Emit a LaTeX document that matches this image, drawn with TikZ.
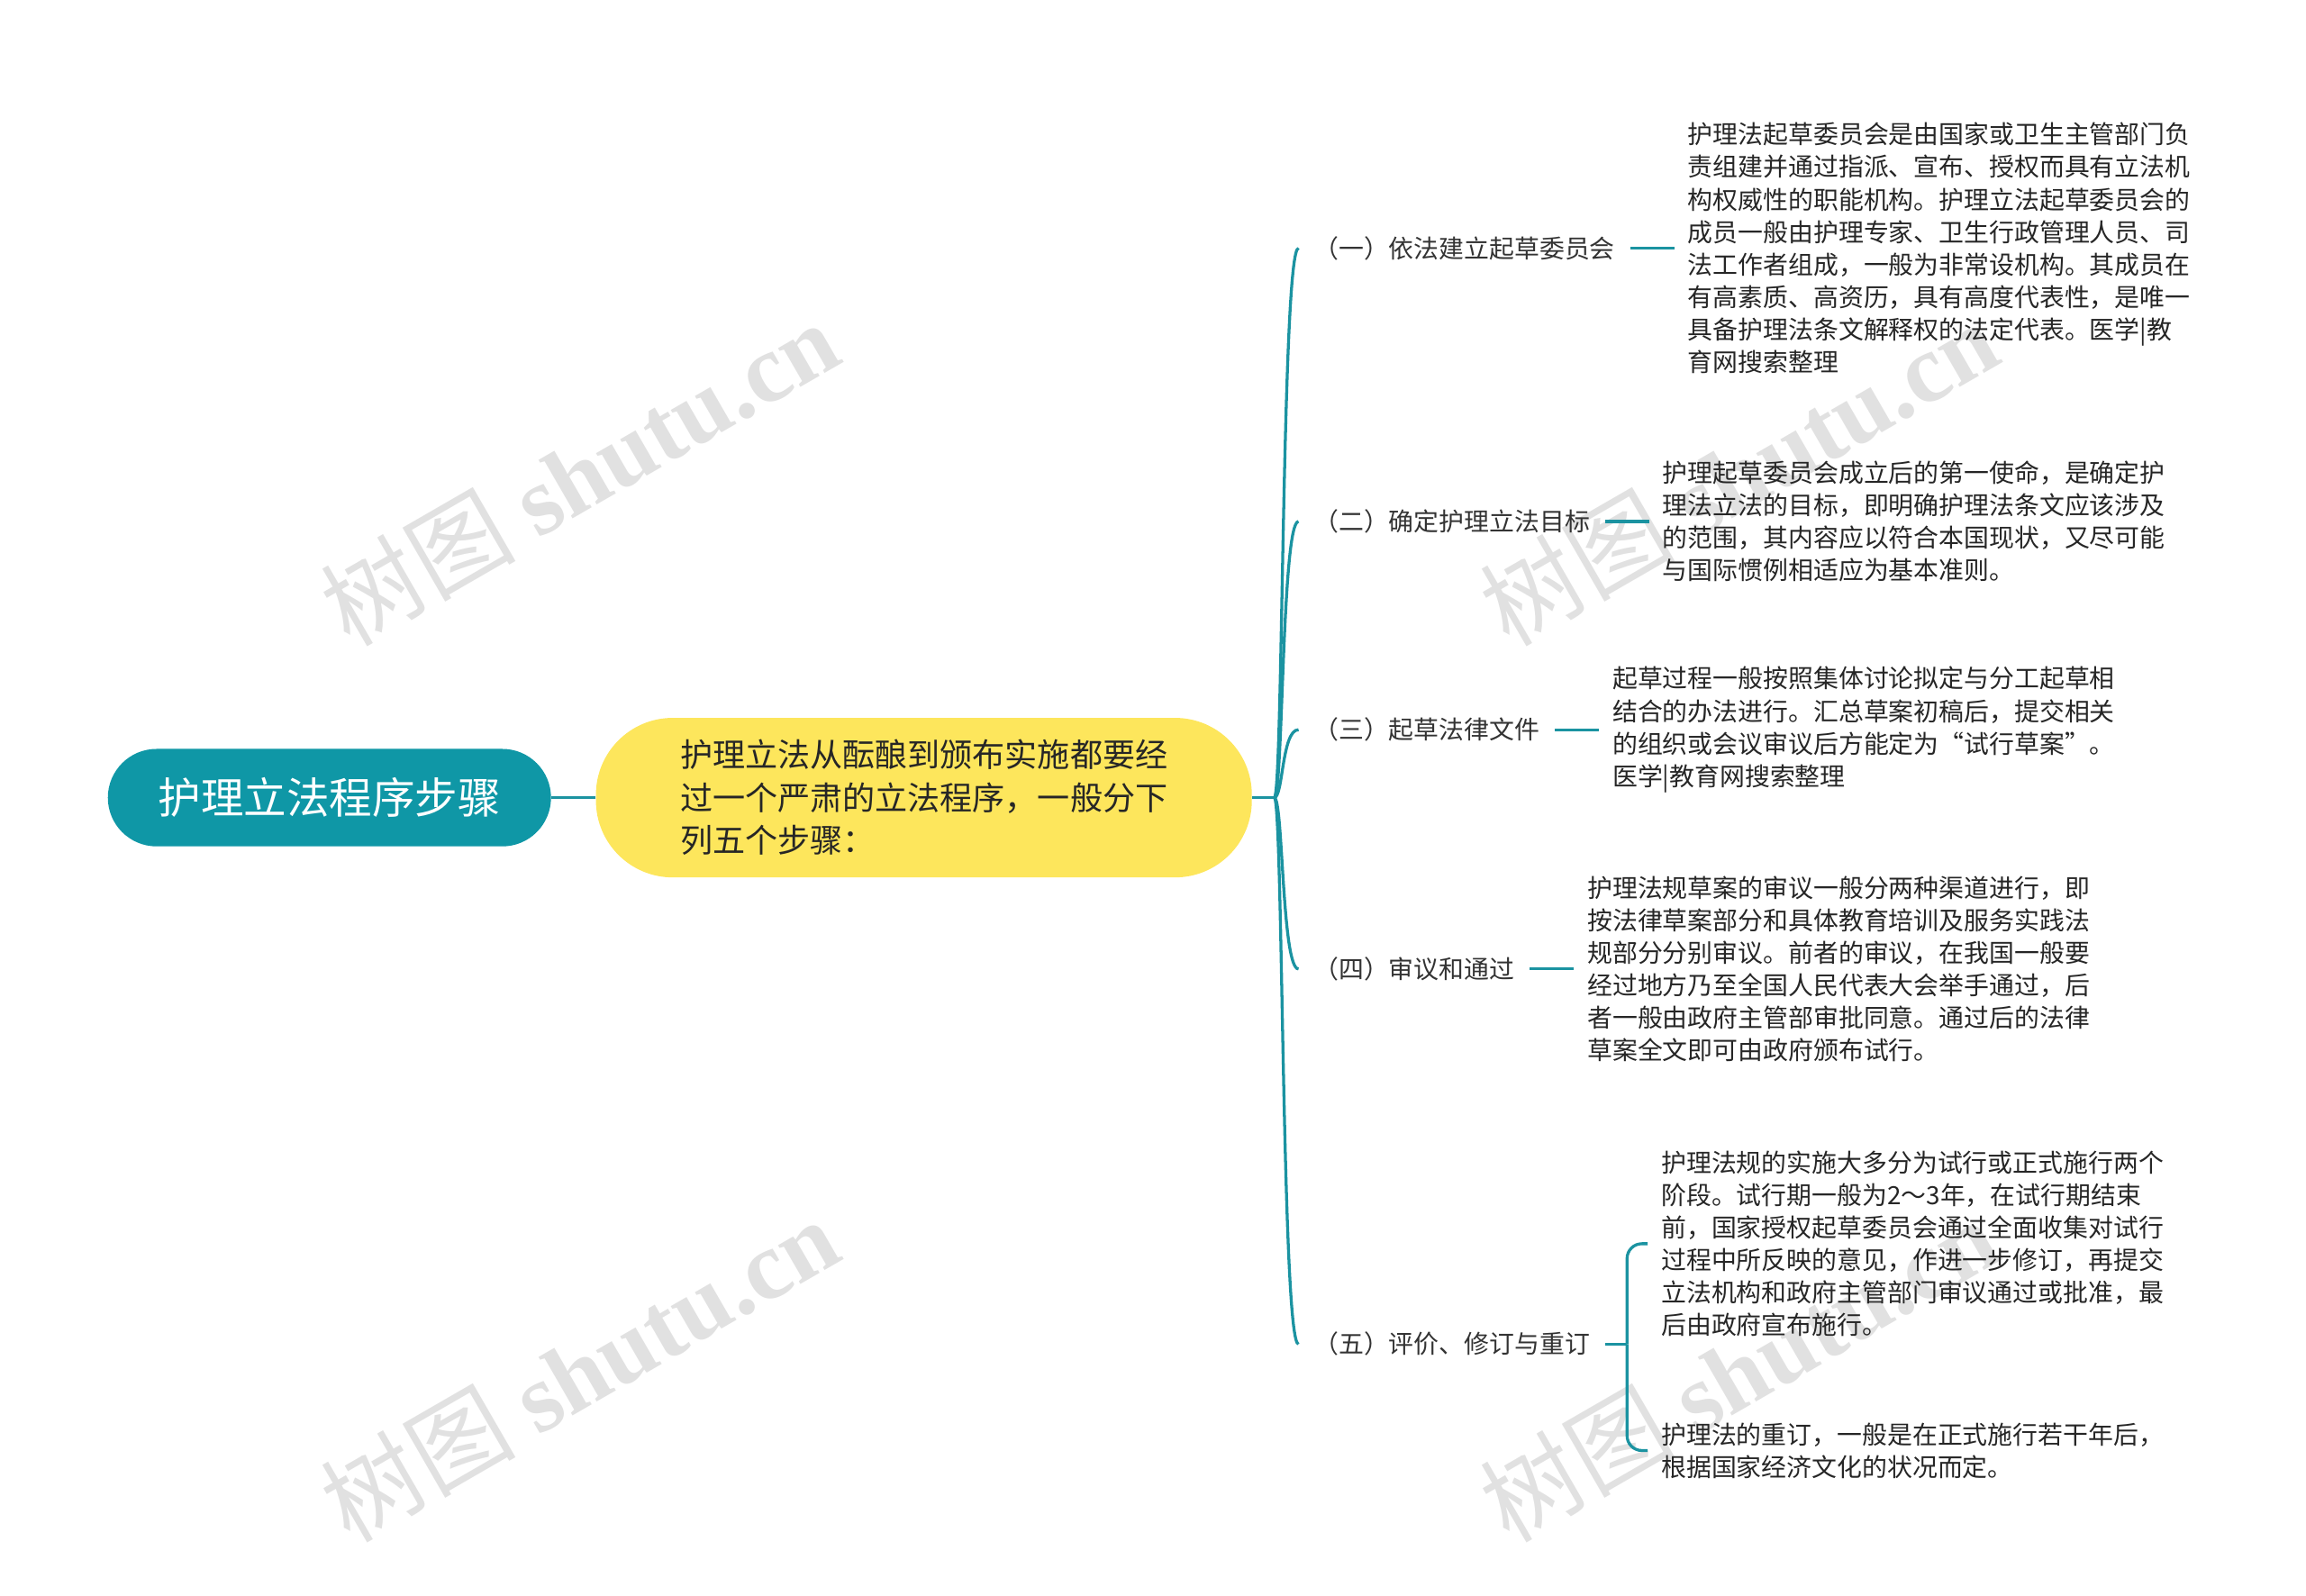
\documentclass[tikz,border=0pt]{standalone}
\usepackage{fontspec}
\setmainfont{Noto Sans CJK SC}
\newfontfamily\wmfont{Liberation Serif}
\usetikzlibrary{positioning,calc}

\definecolor{mapteal}{HTML}{0F97A6}
\definecolor{mapyellow}{HTML}{FDE65C}
\definecolor{mapline}{HTML}{1B93A1}
\definecolor{marktext}{HTML}{BDBDBD}

\begin{document}
\begin{tikzpicture}[x=1pt, y=1pt,
  rootbox/.style={rectangle, rounded corners=33pt, fill=mapteal, text=white,
    minimum width=300pt, minimum height=66pt, font=\fontsize{29}{34}\selectfont},
  midbox/.style={rectangle, rounded corners=52pt, fill=mapyellow, text=black!85,
    minimum height=108pt, inner xsep=57pt, align=left, font=\fontsize{22}{29}\selectfont},
  stepbox/.style={inner xsep=10pt, inner ysep=2pt, text=black!80, anchor=west,
    font=\fontsize{17}{20}\selectfont},
  notebox/.style={inner xsep=9pt, inner ysep=2pt, align=left, text=black!85,
    font=\fontsize{17}{22}\selectfont},
  link/.style={draw=mapline, line width=2pt},
  wmark/.style={text=marktext, opacity=0.45, rotate=30}]

%─────────────
% Canvas
%─────────────
\useasboundingbox (0,0) rectangle (1561,-1080);

%─────────────
% Watermarks
%─────────────
\foreach \wx/\wy in {392/-320, 392/-927, 1177/-320, 1177/-927} {
  \node[wmark] at (\wx,\wy) {\fontsize{66}{66}\selectfont 树图 {\wmfont\bfseries shutu.cn}};
}

%─────────────
% Root and summary
%─────────────
\node[rootbox] (root) at (223,-540) {护理立法程序步骤};
\node[midbox, right=30pt of root] (mid) {护理立法从酝酿到颁布实施都要经\\过一个严肃的立法程序，一般分下\\列五个步骤：};
\draw[link] (root) -- (mid);
\coordinate (hub) at ($(mid.east)+(15,0)$);
\draw[link] (mid.east) -- (hub);

%─────────────
% The five steps
%─────────────
\node[stepbox] (s1) at (879,-168) {（一）依法建立起草委员会};
\node[stepbox] (s2) at (879,-353) {（二）确定护理立法目标};
\node[stepbox] (s3) at (879,-494) {（三）起草法律文件};
\node[stepbox] (s4) at (879,-656) {（四）审议和通过};
\node[stepbox] (s5) at (879,-910) {（五）评价、修订与重订};

% Brace from the hub to each step
\foreach \s in {s1,s2,s3,s4,s5} {
  \draw[link] (hub) .. controls ($(hub)+(6,0)$) and ($(hub |- \s.west)+(5,0)$) .. (\s.west);
}

%─────────────
% Notes
%─────────────
\node[notebox, right=30pt of s1] (t1) {护理法起草委员会是由国家或卫生主管部门负\\责组建并通过指派、宣布、授权而具有立法机\\构权威性的职能机构。护理立法起草委员会的\\成员一般由护理专家、卫生行政管理人员、司\\法工作者组成，一般为非常设机构。其成员在\\有高素质、高资历，具有高度代表性，是唯一\\具备护理法条文解释权的法定代表。医学|教\\育网搜索整理};
\node[notebox, right=30pt of s2] (t2) {护理起草委员会成立后的第一使命，是确定护\\理法立法的目标，即明确护理法条文应该涉及\\的范围，其内容应以符合本国现状，又尽可能\\与国际惯例相适应为基本准则。};
\node[notebox, right=30pt of s3] (t3) {起草过程一般按照集体讨论拟定与分工起草相\\结合的办法进行。汇总草案初稿后，提交相关\\的组织或会议审议后方能定为“试行草案”。\\医学|教育网搜索整理};
\node[notebox, right=30pt of s4] (t4) {护理法规草案的审议一般分两种渠道进行，即\\按法律草案部分和具体教育培训及服务实践法\\规部分分别审议。前者的审议，在我国一般要\\经过地方乃至全国人民代表大会举手通过，后\\者一般由政府主管部审批同意。通过后的法律\\草案全文即可由政府颁布试行。};

\draw[link] (s1) -- (t1);
\draw[link] (s2) -- (t2);
\draw[link] (s3) -- (t3);
\draw[link] (s4) -- (t4);

% Step five splits in two
\coordinate (b5) at ($(s5.east)+(15,0)$);
\node[notebox, anchor=west] (t5a) at ($(b5)+(14,68)$) {护理法规的实施大多分为试行或正式施行两个\\阶段。试行期一般为2～3年，在试行期结束\\前，国家授权起草委员会通过全面收集对试行\\过程中所反映的意见，作进一步修订，再提交\\立法机构和政府主管部门审议通过或批准，最\\后由政府宣布施行。};
\node[notebox, anchor=west] (t5b) at ($(b5)+(14,-72)$) {护理法的重订，一般是在正式施行若干年后，\\根据国家经济文化的状况而定。};
\draw[link] (s5) -- (b5);
\draw[link, rounded corners=10pt] (b5) |- (t5a.west);
\draw[link, rounded corners=10pt] (b5) |- (t5b.west);

\end{tikzpicture}
\end{document}
